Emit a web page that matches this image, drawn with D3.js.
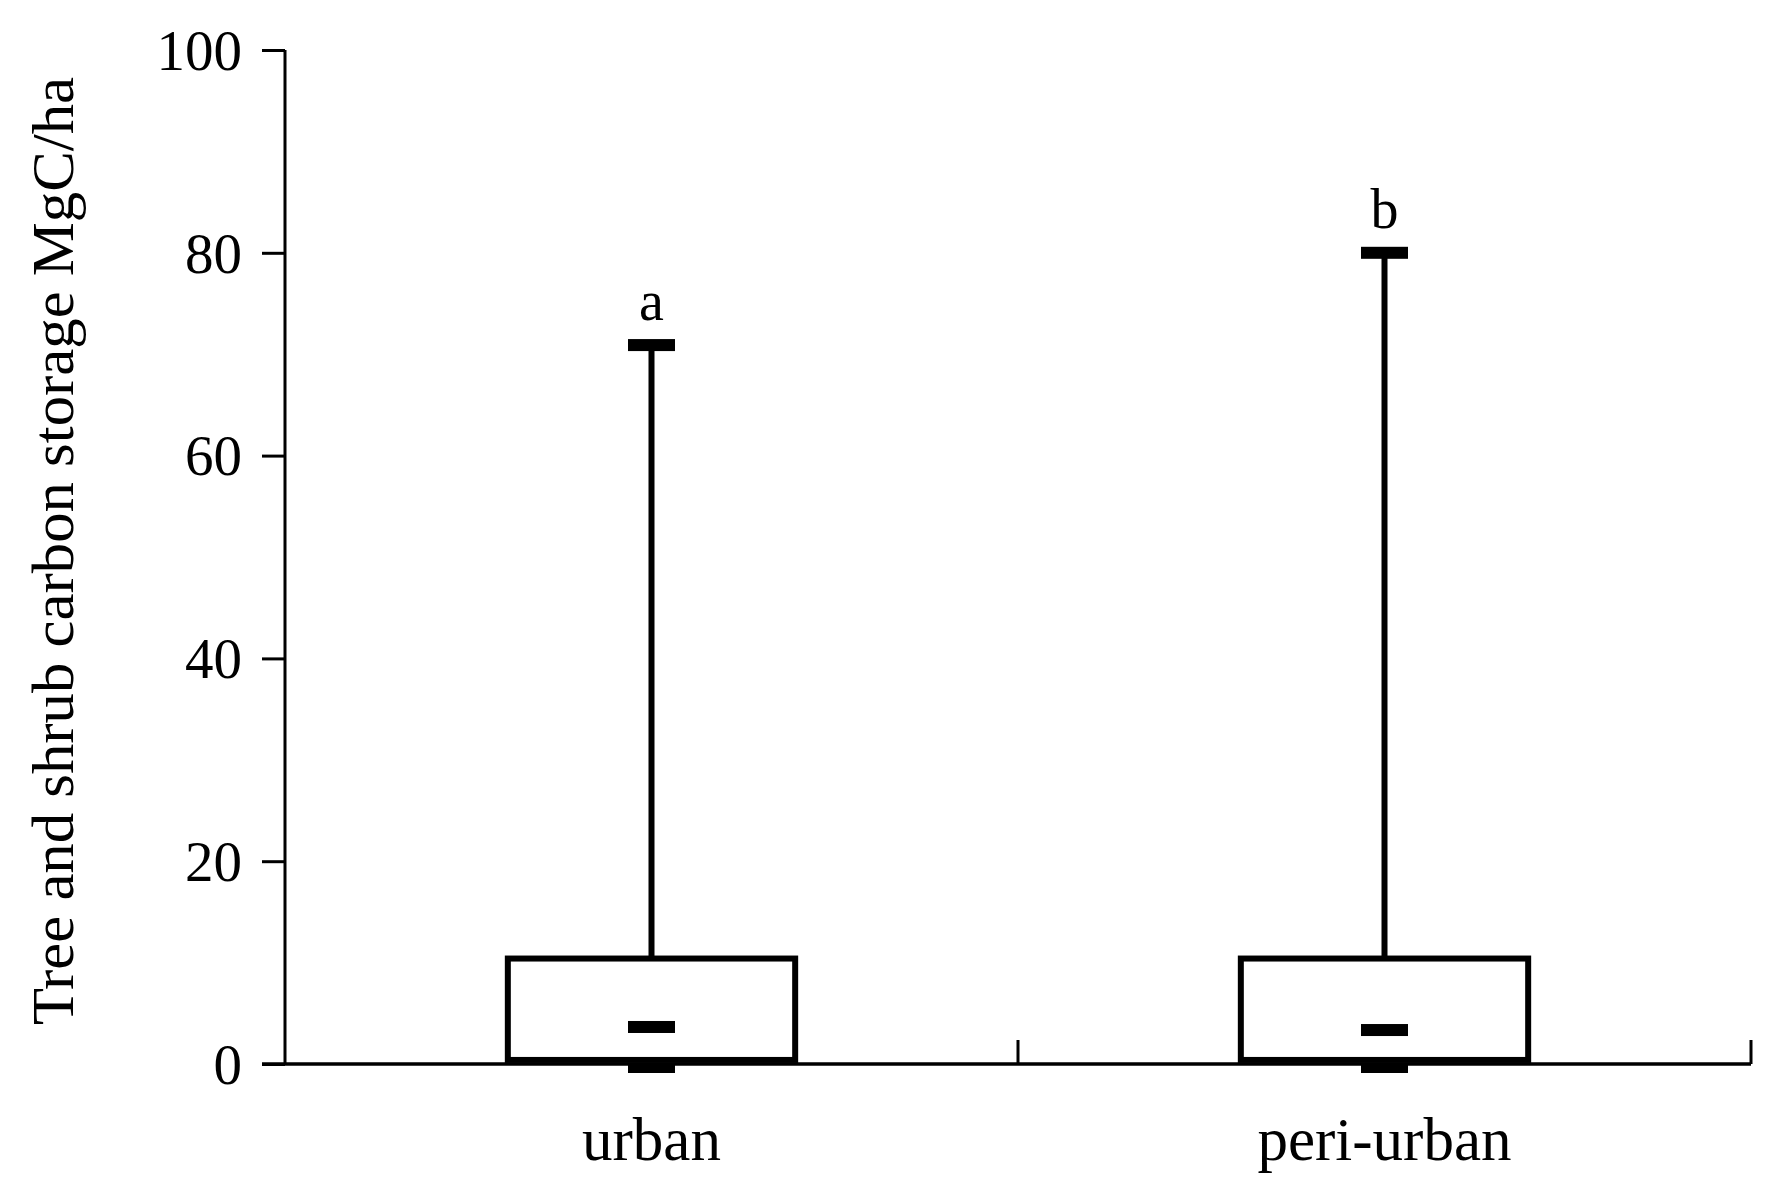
<!DOCTYPE html>
<html>
<head>
<meta charset="utf-8">
<script src="https://cdn.jsdelivr.net/npm/d3@7/dist/d3.min.js"></script>
<style>
html,body{margin:0;padding:0;background:#fff;}
svg{display:block;}
text{font-family:"Liberation Serif","Times New Roman",serif;fill:#000;}
</style>
</head>
<body>
<svg id="chart" width="1790" height="1196"></svg>
<script>
// ---- data ----
const categories = ["urban", "peri-urban"];
const minValues = [0, 0];
const q1Values = [0.4, 0.4];
const medianValues = [3.65, 3.35];
const q3Values = [10.4, 10.4];
const maxValues = [70.9, 80.0];
const groupLetters = ["a", "b"];
const yTicks = [0, 20, 40, 60, 80, 100];
const yTitle = "Tree and shrub carbon storage MgC/ha";

// ---- layout ----
const svg = d3.select("#chart");
const mLeft = 285, mRight = 1751, mTop = 50, mBottom = 1064;

const x = d3.scaleBand().domain(categories).range([mLeft, mRight]).paddingInner(0).paddingOuter(0);
const y = d3.scaleLinear().domain([0, 100]).range([mBottom, mTop]);

const data = categories.map((c, i) => ({
  cat: c, min: minValues[i], q1: q1Values[i], med: medianValues[i],
  q3: q3Values[i], max: maxValues[i], letter: groupLetters[i]
}));

// y axis
const yAxis = svg.append("g").attr("transform", `translate(${mLeft},0)`)
  .call(d3.axisLeft(y).tickValues(yTicks).tickSize(23).tickPadding(20).tickFormat(d3.format("d")));
yAxis.select(".domain").attr("stroke", "#000").attr("stroke-width", 3).attr("d", `M0,${mTop}V${mBottom}`);
yAxis.selectAll(".tick line").attr("stroke", "#000").attr("stroke-width", 3);
yAxis.selectAll(".tick text").style("font-size", "57px").style("font-family", "Liberation Serif, serif").attr("dy", "0.34em");

// x axis (ticks at band boundaries, pointing up)
const xAxisG = svg.append("g");
xAxisG.append("line").attr("x1", mLeft - 23).attr("x2", mRight).attr("y1", mBottom).attr("y2", mBottom)
  .attr("stroke", "#000").attr("stroke-width", 3.5);
const boundaries = categories.slice(1).map(c => x(c)).concat([x.range()[1]]);
xAxisG.selectAll("line.b").data(boundaries).enter().append("line")
  .attr("x1", d => d).attr("x2", d => d).attr("y1", mBottom).attr("y2", mBottom - 24)
  .attr("stroke", "#000").attr("stroke-width", 3);
xAxisG.selectAll("text.cat").data(categories).enter().append("text")
  .attr("x", d => x(d) + x.bandwidth() / 2).attr("y", 1160)
  .attr("text-anchor", "middle").style("font-size", "61px").text(d => d);

// y title
svg.append("text")
  .attr("transform", `translate(73,${(mTop + mBottom) / 2 - 6}) rotate(-90)`)
  .attr("text-anchor", "middle").style("font-size", "60px")
  .attr("textLength", 948).attr("lengthAdjust", "spacingAndGlyphs")
  .text(yTitle);

// boxes
const boxW = x.bandwidth() * 0.392;
const capW = 47;
const g = svg.selectAll("g.box").data(data).enter().append("g").attr("class", "box")
  .attr("transform", d => `translate(${x(d.cat) + x.bandwidth() / 2},0)`);

// whisker
g.append("line").attr("x1", 0).attr("x2", 0)
  .attr("y1", d => y(d.q3)).attr("y2", d => y(d.max))
  .attr("stroke", "#000").attr("stroke-width", 6);
// max cap
g.append("rect").attr("x", -capW / 2).attr("width", capW)
  .attr("y", d => y(d.max) - 6).attr("height", 12).attr("fill", "#000");
// min cap (hangs below)
g.append("rect").attr("x", -capW / 2).attr("width", capW)
  .attr("y", d => y(d.min)).attr("height", 9).attr("fill", "#000");
// box
g.append("rect").attr("x", -boxW / 2).attr("width", boxW)
  .attr("y", d => y(d.q3)).attr("height", d => y(d.q1) - y(d.q3))
  .attr("fill", "#fff").attr("stroke", "#000").attr("stroke-width", 6);
// median
g.append("rect").attr("x", -capW / 2).attr("width", capW)
  .attr("y", d => y(d.med) - 6).attr("height", 12).attr("fill", "#000");
// letters
g.append("text").attr("x", 0).attr("y", d => y(d.max) - 25)
  .attr("text-anchor", "middle").style("font-size", "56px").text(d => d.letter);
</script>
</body>
</html>
